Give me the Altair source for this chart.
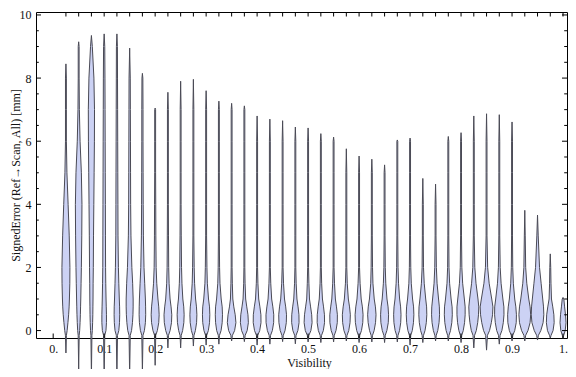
import altair as alt
import pandas as pd

# ---------------- data ----------------
POSITIONS = [0.025, 0.05, 0.075, 0.1, 0.125, 0.15, 0.175, 0.2, 0.225, 0.25,
             0.275, 0.3, 0.325, 0.35, 0.375, 0.4, 0.425, 0.45, 0.475, 0.5,
             0.525, 0.55, 0.575, 0.6, 0.625, 0.65, 0.675, 0.7, 0.725, 0.75,
             0.775, 0.8, 0.825, 0.85, 0.875, 0.9, 0.925, 0.95, 0.975, 1.0]

MAXIMA = [8.45, 9.15, 9.35, 9.4, 9.4, 8.95, 8.15, 7.05, 7.55, 7.9,
          7.96, 7.6, 7.27, 7.2, 7.12, 6.8, 6.7, 6.65, 6.45, 6.42,
          6.24, 6.13, 5.76, 5.53, 5.43, 5.25, 6.04, 6.1, 4.82, 4.64,
          6.15, 6.27, 6.8, 6.87, 6.84, 6.61, 3.81, 3.66, 2.43, 1.05]

MINIMA = [-0.71, -1.24, -1.47, -1.47, -1.47, -1.43, -1.33, -1.1, -0.55, -0.55,
          -0.49, -0.46, -0.43, -0.33, -0.35, -0.46, -0.43, -0.35, -0.42, -0.36,
          -0.38, -0.36, -0.33, -0.38, -0.36, -0.38, -0.36, -0.46, -0.38, -0.33,
          -0.33, -0.38, -0.55, -0.62, -0.43, -0.33, -0.33, -0.30, -0.24, -0.24]

# density profile (relative half-width) at these signed-error levels
LEVELS = [-0.15, 0.0, 0.25, 0.5, 0.75, 1.0, 1.5, 2.0, 3.0, 4.0, 5.0, 6.0, 7.0, 8.0, 9.0]
DENSITY = [
    [0.5, 1.2, 2.0, 2.7, 3.2, 3.5, 3.9, 4.0, 3.3, 2.2, 1.0],
    [0.5, 1.0, 1.4, 1.7, 1.9, 2.1, 2.4, 2.7, 3.1, 3.3, 2.7, 1.4, 0.7],
    [0.5, 0.9, 1.2, 1.4, 1.5, 1.6, 1.7, 1.9, 2.1, 2.4, 2.7, 3.0, 3.1, 2.5, 0.9],
    [0.6, 1.8, 2.3, 2.3, 2.1, 1.9, 1.6, 1.4, 1.3, 1.2, 1.1, 1.0, 0.9, 0.8, 0.6],
    [0.6, 1.9, 2.6, 2.8, 2.7, 2.4, 1.9, 1.5, 1.1, 1.0, 0.9, 0.8, 0.7, 0.6, 0.5],
    [0.6, 1.9, 2.8, 3.3, 3.5, 3.5, 3.0, 2.2, 1.3, 1.0, 0.9, 0.8, 0.7, 0.6],
    [0.6, 2.0, 3.0, 3.3, 3.2, 3.0, 2.3, 1.6, 1.0, 0.8, 0.7, 0.6, 0.6],
    [0.6, 2.2, 3.6, 4.0, 3.6, 2.8, 1.6, 1.0, 0.7, 0.6],
    [0.6, 2.2, 3.6, 3.9, 3.2, 2.2, 1.2, 0.8, 0.6],
    [0.6, 2.0, 3.2, 3.5, 3.1, 2.2, 1.3, 0.9, 0.6],
    [0.6, 2.0, 3.2, 3.5, 3.1, 2.2, 1.2, 0.8],
    [0.6, 2.2, 3.4, 3.7, 3.4, 2.4, 1.2, 0.8],
    [0.6, 2.2, 3.3, 3.6, 3.3, 2.3, 1.1, 0.7],
    [0.8, 3.0, 4.3, 3.6, 2.2, 1.2, 0.7],
    [0.8, 2.8, 4.0, 3.6, 2.4, 1.3, 0.7],
    [0.7, 2.6, 3.9, 3.8, 2.8, 1.6, 0.8],
    [0.7, 2.5, 3.8, 3.9, 3.0, 1.8, 0.9],
    [0.7, 2.4, 3.7, 3.9, 3.1, 1.9, 0.9],
    [0.7, 2.5, 3.7, 3.6, 2.7, 1.6, 0.8],
    [0.8, 2.8, 4.0, 3.6, 2.5, 1.4, 0.8],
    [0.7, 2.5, 3.7, 3.6, 2.7, 1.6, 0.8],
    [0.7, 2.4, 3.7, 3.8, 2.9, 1.8, 0.9],
    [0.7, 2.4, 3.7, 4.0, 3.2, 2.0, 0.9],
    [0.7, 2.4, 3.7, 4.0, 3.3, 2.1, 1.0],
    [0.7, 2.3, 3.7, 4.2, 3.6, 2.4, 1.1, 0.7],
    [0.7, 2.3, 3.7, 4.0, 3.5, 2.4, 1.2, 0.7],
    [0.7, 2.2, 3.4, 3.7, 3.3, 2.3, 1.2, 0.7],
    [0.7, 2.2, 3.4, 3.8, 3.5, 2.5, 1.2, 0.7],
    [0.7, 2.2, 3.5, 4.0, 3.8, 2.9, 1.4, 0.7],
    [0.7, 2.2, 3.5, 4.0, 3.8, 3.0, 1.5, 0.8],
    [0.7, 2.2, 3.5, 4.0, 3.8, 2.8, 1.3, 0.7],
    [0.7, 2.2, 3.5, 4.1, 4.1, 3.3, 1.6, 0.8],
    [0.8, 2.5, 3.9, 4.7, 5.0, 4.2, 2.2, 1.0],
    [0.9, 3.0, 4.8, 6.0, 6.4, 5.2, 2.6, 1.1],
    [0.8, 2.6, 4.0, 4.7, 4.6, 3.6, 1.8, 0.9],
    [0.8, 2.7, 4.2, 4.4, 3.8, 2.7, 1.3, 0.7],
    [0.9, 3.2, 5.3, 5.9, 5.3, 4.0, 2.0, 0.9],
    [0.9, 3.3, 5.6, 6.3, 6.0, 5.2, 3.6, 2.0, 0.7],
    [0.8, 2.8, 3.9, 3.6, 2.5, 1.2, 0.7],
    [0.7, 2.2, 3.0, 2.5, 1.6, 0.8],
]
TAIL = 0.45

X_TICKS = [0.0, 0.1, 0.2, 0.3, 0.4, 0.5, 0.6, 0.7, 0.8, 0.9, 1.0]
X_TICK_LABELS = ["0.", "0.1", "0.2", "0.3", "0.4", "0.5", "0.6", "0.7", "0.8", "0.9", "1."]
Y_TICKS = [0, 2, 4, 6, 8, 10]
Y_MINOR = [0.5, 1, 1.5, 2.5, 3, 3.5, 4.5, 5, 5.5, 6.5, 7, 7.5, 8.5, 9, 9.5]

# ---------------- layout / style ----------------
W, H = 531, 326
X_DOMAIN = [-0.0337, 1.0078]
Y_DOMAIN = [-0.2355, 10.094]
K = 1.0 / 511.0         # x data units per density unit (about 1 px)
FONT = "Liberation Serif"
FILL = "#ccd2f4"
EDGE = "#4a4a55"

rows = []
for i, (pos, lo, hi, dens) in enumerate(zip(POSITIONS, MINIMA, MAXIMA, DENSITY)):
    pts = [(lo, 0.0)]
    for k, lev in enumerate(LEVELS):
        if lo < lev < hi:
            d = dens[k] if k < len(dens) else TAIL
            pts.append((lev, d))
    pts.append((hi, 0.0))
    for yv, d in pts:
        rows.append({"vid": i, "y": yv, "xlo": pos - d * K, "xhi": pos + d * K})
violins = pd.DataFrame(rows)

xs = alt.Scale(domain=X_DOMAIN, nice=False, zero=False)
ys = alt.Scale(domain=Y_DOMAIN, nice=False, zero=False)

label_expr = "".join(
    f"abs(datum.value - {v}) < 1e-6 ? '{lab}' : " for v, lab in zip(X_TICKS, X_TICK_LABELS)
) + "datum.label"

y_axis = alt.Axis(
    values=Y_TICKS, title="SignedError (Ref→Scan, All) [mm]", ticks=False, domain=False,
    grid=False, labelPadding=5, labelFont=FONT, labelFontSize=12, labelColor="#111",
    titleFont=FONT, titleFontSize=12, titleFontWeight="normal", titleColor="#111",
    titleAngle=-90, titleX=-21, titleY=H / 2, titleAlign="center", titleBaseline="middle")
x_axis = alt.Axis(
    values=X_TICKS, labelExpr=label_expr, title="Visibility", ticks=False, domain=False,
    grid=False, labelPadding=5, labelFont=FONT, labelFontSize=12, labelColor="#111",
    titleFont=FONT, titleFontSize=12, titleFontWeight="normal", titleColor="#111",
    titleX=273, titleY=24, titleAlign="center", titleBaseline="middle", format=".1f")

area = alt.Chart(violins).mark_area(
    orient="horizontal", fill=FILL, stroke=EDGE, strokeWidth=1
).encode(
    y=alt.Y("y:Q", scale=ys, axis=y_axis),
    x=alt.X("xlo:Q", scale=xs, stack=None, axis=x_axis),
    x2="xhi:Q",
    detail="vid:N",
)

def vdf(vals):
    return pd.DataFrame({"v": vals})

left_major = alt.Chart(vdf(Y_TICKS)).mark_rule(color="black").encode(
    y=alt.Y("v:Q", scale=ys, axis=y_axis), x=alt.value(0), x2=alt.value(5))
left_minor = alt.Chart(vdf(Y_MINOR)).mark_rule(color="black").encode(
    y=alt.Y("v:Q", scale=ys, axis=y_axis), x=alt.value(0), x2=alt.value(2.8))
right_major = alt.Chart(vdf(Y_TICKS)).mark_rule(color="black").encode(
    y=alt.Y("v:Q", scale=ys, axis=y_axis), x=alt.value(W), x2=alt.value(W - 5))
right_minor = alt.Chart(vdf(Y_MINOR)).mark_rule(color="black").encode(
    y=alt.Y("v:Q", scale=ys, axis=y_axis), x=alt.value(W), x2=alt.value(W - 2.8))
top_ticks = alt.Chart(vdf(POSITIONS)).mark_rule(color="black").encode(
    x=alt.X("v:Q", scale=xs, axis=x_axis), y=alt.value(0), y2=alt.value(4.5))
bottom_ticks = alt.Chart(vdf(X_TICKS)).mark_rule(color="black").encode(
    x=alt.X("v:Q", scale=xs, axis=x_axis), y=alt.value(H), y2=alt.value(H - 4.5))

chart = alt.layer(
    area, left_major, left_minor, right_major, right_minor, top_ticks, bottom_ticks
).properties(
    width=W, height=H,
    autosize=alt.AutoSizeParams(type="none"),
    padding={"left": 28, "top": 4, "right": 1, "bottom": 31},
    background="white",
).configure_view(
    stroke="black", strokeWidth=1
)

chart.save("out.html", embed_options={"renderer": "svg", "actions": False})
